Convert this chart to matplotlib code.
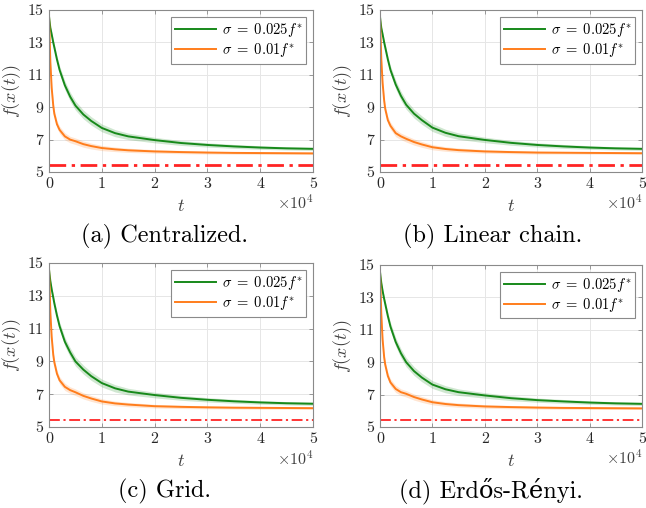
import matplotlib
matplotlib.use('Agg')
import matplotlib.pyplot as plt

plt.rcParams['font.family'] = ['cmr10', 'DejaVu Serif']
plt.rcParams['mathtext.fontset'] = 'cm'
plt.rcParams['axes.unicode_minus'] = False

# time axis, in units of 1e4
t = [0, 0.01, 0.025, 0.05, 0.08, 0.1, 0.15, 0.2, 0.3, 0.4, 0.5, 0.65, 0.8,
     1.0, 1.25, 1.5, 2, 2.5, 3, 3.5, 4, 4.5, 5]

# sigma = 0.025 f*
green_a = [14.6, 14.3, 13.9, 13.5, 13.0, 12.7, 11.95, 11.3, 10.35, 9.65, 9.1, 8.55, 8.15,
           7.72, 7.4, 7.2, 6.97, 6.79, 6.67, 6.58, 6.51, 6.46, 6.43]
green_b = [14.6, 14.3, 13.9, 13.5, 13.0, 12.7, 11.95, 11.3, 10.4, 9.7, 9.15, 8.6, 8.2,
           7.74, 7.42, 7.21, 6.98, 6.8, 6.67, 6.58, 6.51, 6.46, 6.43]
green_c = [14.6, 14.3, 13.9, 13.4, 12.9, 12.55, 11.8, 11.15, 10.2, 9.55, 9.0, 8.5, 8.1,
           7.68, 7.36, 7.16, 6.95, 6.78, 6.66, 6.57, 6.5, 6.45, 6.42]
green_d = [14.6, 14.3, 13.9, 13.4, 12.9, 12.6, 11.85, 11.2, 10.25, 9.55, 9.0, 8.45, 8.05,
           7.62, 7.33, 7.15, 6.95, 6.78, 6.66, 6.58, 6.51, 6.46, 6.43]

# sigma = 0.01 f*
orange_a = [14.6, 13.5, 11.8, 10.2, 9.1, 8.6, 7.95, 7.6, 7.2, 7.0, 6.9, 6.72, 6.6,
            6.48, 6.4, 6.34, 6.27, 6.23, 6.2, 6.18, 6.17, 6.16, 6.15]
orange_b = [14.6, 13.6, 12.0, 10.5, 9.4, 8.9, 8.2, 7.85, 7.4, 7.2, 7.05, 6.85, 6.7,
            6.53, 6.42, 6.35, 6.27, 6.23, 6.2, 6.19, 6.18, 6.17, 6.16]
orange_c = [14.6, 13.6, 12.0, 10.5, 9.4, 8.95, 8.25, 7.85, 7.45, 7.25, 7.12, 6.9, 6.74,
            6.56, 6.44, 6.37, 6.27, 6.23, 6.2, 6.18, 6.17, 6.16, 6.15]
orange_d = [14.6, 13.6, 12.0, 10.4, 9.3, 8.85, 8.15, 7.75, 7.35, 7.15, 7.05, 6.85, 6.7,
            6.53, 6.42, 6.35, 6.27, 6.23, 6.2, 6.18, 6.17, 6.16, 6.15]

# half width of shaded bands
green_band = [0, 0.05, 0.1, 0.15, 0.18, 0.2, 0.22, 0.25, 0.27, 0.28, 0.28, 0.27, 0.26,
              0.24, 0.22, 0.2, 0.17, 0.15, 0.13, 0.12, 0.11, 0.1, 0.1]
orange_band = [0, 0.1, 0.15, 0.2, 0.22, 0.22, 0.22, 0.22, 0.22, 0.2, 0.2, 0.19, 0.18,
               0.16, 0.14, 0.13, 0.11, 0.1, 0.09, 0.08, 0.08, 0.07, 0.07]

f_star = [5.46, 5.46, 5.42, 5.42]
captions = ['(a) Centralized.', '(b) Linear chain.', '(c) Grid.', '(d) Erdős-Rényi.']
legend_labels = [r'$\sigma\;=\;0.025f^{*}$', r'$\sigma\;=\;0.01f^{*}$']

greens = [green_a, green_b, green_c, green_d]
oranges = [orange_a, orange_b, orange_c, orange_d]

green_col = '#17891a'
orange_col = '#ff7d1c'
red_col = '#ff2424'

fig = plt.figure(figsize=(6.46, 5.08), dpi=100)
# [left, bottom, width, height]
rects = [[0.0759, 0.6614, 0.4087, 0.3189],
         [0.5882, 0.6614, 0.4056, 0.3189],
         [0.0759, 0.1594, 0.4087, 0.3228],
         [0.5882, 0.1594, 0.4056, 0.3190]]
# caption baselines
cap_pos = [(0.254, 1 - 242 / 508), (0.762, 1 - 242 / 508),
           (0.254, 1 - 497 / 508), (0.760, 1 - 497 / 508)]
red_lw = [2.0, 2.0, 1.3, 1.3]

for i in range(4):
    ax = fig.add_axes(rects[i])
    g = greens[i]
    o = oranges[i]
    ax.fill_between(t, [v - b for v, b in zip(g, green_band)], [v + b for v, b in zip(g, green_band)],
                    color=green_col, alpha=0.2, lw=0)
    ax.fill_between(t, [v - b for v, b in zip(o, orange_band)], [v + b for v, b in zip(o, orange_band)],
                    color=orange_col, alpha=0.2, lw=0)
    ax.plot(t, g, color=green_col, lw=1.4, label=legend_labels[0])
    ax.plot(t, o, color=orange_col, lw=1.4, label=legend_labels[1])
    ax.axhline(f_star[i], color=red_col, lw=red_lw[i], ls='-.', dashes=(6, 2, 1.2, 2))

    ax.set_xlim(0, 5)
    ax.set_ylim(5, 15)
    ax.set_xticks([0, 1, 2, 3, 4, 5])
    ax.set_yticks([5, 7, 9, 11, 13, 15])
    ax.grid(True, color='#e6e6e6', lw=0.7)
    ax.set_axisbelow(True)
    for s in ax.spines.values():
        s.set_color('#8a8a8a')
        s.set_linewidth(0.8)
    ax.tick_params(direction='in', length=3, width=0.6, color='#8a8a8a',
                   labelsize=11.5, labelcolor='#262626', top=True, right=True, pad=4)
    ax.set_ylabel(r'$f(x(t))$', fontsize=13, color='#404040', labelpad=3)
    ax.set_xlabel(r'$t$', fontsize=13, color='#404040', labelpad=5)
    ax.text(1.0, -0.19, r'$\times10^{4}$', transform=ax.transAxes, ha='right', va='center',
            fontsize=11.5, color='#404040')
    leg = ax.legend(loc='upper right', fontsize=10.5, fancybox=False, framealpha=1,
                    edgecolor='#8a8a8a', handlelength=2.8, borderpad=0.3, labelspacing=0.15,
                    handletextpad=0.4, borderaxespad=0.45)
    leg.get_frame().set_linewidth(0.8)
    fig.text(cap_pos[i][0], cap_pos[i][1], captions[i], ha='center', va='baseline', fontsize=17.5)

fig.savefig('out.png', dpi=100)
